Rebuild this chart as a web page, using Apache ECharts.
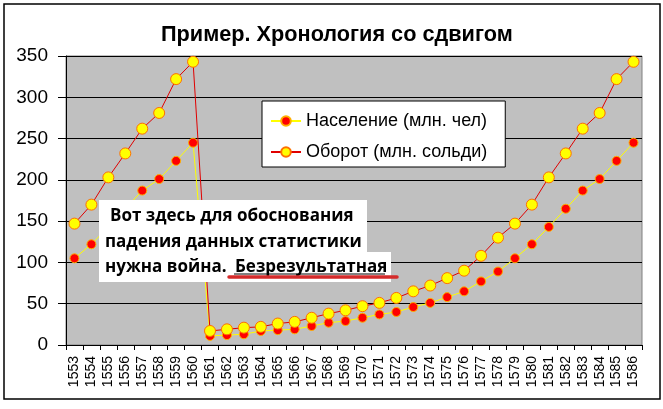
<!DOCTYPE html>
<html>
<head>
<meta charset="utf-8">
<script src="https://cdn.jsdelivr.net/npm/echarts@6/dist/echarts.min.js"></script>
<style>
  html, body { margin: 0; padding: 0; background: #fff; }
  #chart { width: 663px; height: 409px; }
</style>
</head>
<body>
<div id="chart"></div>
<script>
// годы
var years = [];
for (var y = 1553; y <= 1586; y++) years.push(String(y));

// Население (млн. чел)
var population = [105, 122, 143, 165, 187, 201, 223, 245,
  11, 12, 13, 17, 18, 19, 23, 27, 29, 33, 37, 40, 46, 51, 58, 65, 77, 89,
  105, 122, 143, 165, 187, 201, 223, 245];

// Оборот (млн. сольди)
var turnover = [147, 170, 203, 232, 262, 281, 322, 343,
  17, 19, 21, 22, 26, 28, 33, 38, 42, 47, 51, 57, 65, 72, 81, 90, 108, 130,
  147, 170, 203, 232, 262, 281, 322, 343];

var seriesNames = ['Население (млн. чел)', 'Оборот (млн. сольди)'];
var noteLines = ['Вот здесь для обоснования', 'падения данных статистики', 'нужна война.', 'Безрезультатная'];

var chart = echarts.init(document.getElementById('chart'));
var noteFont = '"Open Sans", "Noto Sans", sans-serif';

chart.setOption({
  animation: false,
  backgroundColor: '#fff',
  textStyle: { fontFamily: 'Liberation Sans, Arial, sans-serif' },
  title: {
    text: 'Пример. Хронология со сдвигом',
    left: 156,
    top: 19,
    textStyle: { fontSize: 21.7, fontWeight: 'bold', color: '#000', fontFamily: 'Liberation Sans, Arial' }
  },
  legend: {
    orient: 'vertical',
    left: 262,
    top: 101,
    padding: [11, 18, 6, 8],
    itemGap: 13,
    itemWidth: 30,
    itemHeight: 12,
    backgroundColor: '#fff',
    borderColor: '#000',
    borderWidth: 1,
    textStyle: { fontSize: 18, lineHeight: 15, color: '#000', fontFamily: 'Liberation Sans, Arial' },
    data: seriesNames
  },
  grid: {
    left: 66, right: 21, top: 56, bottom: 64,
    show: true,
    backgroundColor: '#C0C0C0',
    borderColor: '#808080',
    borderWidth: 1
  },
  xAxis: {
    type: 'category',
    data: years,
    boundaryGap: true,
    axisLine: { lineStyle: { color: '#000', width: 1 } },
    axisTick: { show: true, length: 5, interval: 0, lineStyle: { color: '#000' } },
    axisLabel: { rotate: 90, interval: 0, fontSize: 14, color: '#000', margin: 11 },
    splitLine: { show: false }
  },
  yAxis: {
    type: 'value',
    min: 0, max: 350, interval: 50,
    axisLine: { show: true, lineStyle: { color: '#000', width: 1 } },
    axisTick: { show: true, length: 8, lineStyle: { color: '#000' } },
    axisLabel: { fontSize: 19, color: '#000', margin: 18 },
    splitLine: { show: true, lineStyle: { color: '#000', width: 1 } }
  },
  series: [
    {
      name: seriesNames[0],
      type: 'line',
      data: population,
      symbol: 'circle',
      symbolSize: 9,
      lineStyle: { color: '#FFFF00', width: 1 },
      itemStyle: { color: '#FF0000', borderColor: '#FFB000', borderWidth: 1 },
      emphasis: { disabled: true },
      z: 2
    },
    {
      name: seriesNames[1],
      type: 'line',
      data: turnover,
      symbol: 'circle',
      symbolSize: 11,
      lineStyle: { color: '#E00000', width: 1 },
      itemStyle: { color: '#FFFF00', borderColor: '#FF7000', borderWidth: 1 },
      emphasis: { disabled: true },
      z: 3
    }
  ],
  graphic: [
    // рамка всей диаграммы
    { type: 'rect', shape: { x: 4, y: 4, width: 656, height: 395 }, style: { fill: null, stroke: '#000', lineWidth: 1.5 }, z: 0, silent: true },
    // надпись
    { type: 'rect', shape: { x: 99, y: 200, width: 268, height: 53 }, style: { fill: '#fff' }, z: 100 },
    { type: 'rect', shape: { x: 99, y: 252, width: 292, height: 30 }, style: { fill: '#fff' }, z: 100 },
    { type: 'text', x: 110, y: 216, style: { text: noteLines[0], font: 'bold 17px ' + noteFont, fill: '#000', textVerticalAlign: 'middle' }, z: 101 },
    { type: 'text', x: 105, y: 242, style: { text: noteLines[1], font: 'bold 17px ' + noteFont, fill: '#000', textVerticalAlign: 'middle' }, z: 101 },
    { type: 'text', x: 105, y: 267, style: { text: noteLines[2], font: 'bold 17px ' + noteFont, fill: '#000', textVerticalAlign: 'middle' }, z: 101 },
    { type: 'text', x: 235, y: 267, style: { text: noteLines[3], font: 'bold 17px ' + noteFont, fill: '#000', textVerticalAlign: 'middle' }, z: 101 },
    { type: 'line', shape: { x1: 234, y1: 274, x2: 385, y2: 274 }, style: { stroke: '#000', lineWidth: 1 }, z: 101 },
    { type: 'line', shape: { x1: 229, y1: 277, x2: 397, y2: 277 }, style: { stroke: '#D42A2A', lineWidth: 3.5, lineCap: 'round' }, z: 102 }
  ]
});
</script>
</body>
</html>
